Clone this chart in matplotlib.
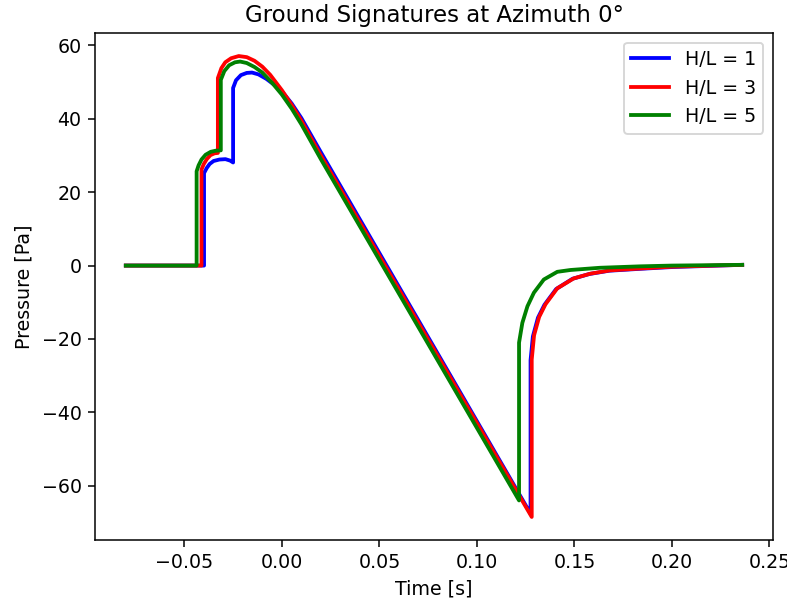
import numpy as np
import matplotlib
matplotlib.use('Agg')
from matplotlib import pyplot as plt

# ground signatures, time [s] and pressure [Pa], one pair per H/L ratio
t_hl1 = [-0.080, -0.0399, -0.0399, -0.0385, -0.0370, -0.0350, -0.0320, -0.0289,
         -0.0265, -0.0250, -0.0250, -0.0235, -0.0210, -0.0180, -0.0153, -0.0120,
         -0.008, -0.004, 0.0, 0.005, 0.010, 0.020,
         0.1275, 0.1275, 0.1287, 0.1313, 0.1346, 0.1406, 0.1490, 0.1576,
         0.1678, 0.1831, 0.200, 0.236]
p_hl1 = [0.0, 0.0, 25.2, 26.6, 27.7, 28.5, 28.9, 29.0,
         28.6, 28.1, 48.4, 50.5, 51.9, 52.5, 52.6, 52.1,
         50.9, 49.3, 47.5, 44.2, 40.2, 30.9,
         -67.6, -25.8, -19.3, -14.2, -10.7, -6.4, -3.6, -2.3,
         -1.4, -0.9, -0.4, 0.2]

t_hl3 = [-0.080, -0.0412, -0.0412, -0.0400, -0.0385, -0.0366, -0.0345, -0.0328,
         -0.0328, -0.0310, -0.0290, -0.0260, -0.0221, -0.0180, -0.0140, -0.0100,
         -0.006, 0.0, 0.005, 0.010, 0.020,
         0.1281, 0.1281, 0.1293, 0.1319, 0.1352, 0.1412, 0.1496, 0.1582,
         0.1684, 0.1837, 0.200, 0.236]
p_hl3 = [0.0, 0.0, 26.2, 27.7, 29.0, 30.1, 30.6, 30.7,
         51.1, 53.8, 55.4, 56.5, 57.1, 56.8, 55.8, 54.2,
         52.0, 47.8, 43.8, 39.5, 30.0,
         -68.5, -25.6, -19.0, -14.0, -10.5, -6.2, -3.5, -2.2,
         -1.3, -0.8, -0.3, 0.2]

t_hl5 = [-0.080, -0.0437, -0.0437, -0.0427, -0.0412, -0.0391, -0.0365, -0.0340,
         -0.0313, -0.0313, -0.0295, -0.0270, -0.0240, -0.0214, -0.0180, -0.0140,
         -0.010, -0.005, 0.0, 0.005, 0.010, 0.020,
         0.1216, 0.1216, 0.1233, 0.1259, 0.1292, 0.1343, 0.1412, 0.1480,
         0.1530, 0.1630, 0.1840, 0.200, 0.236]
p_hl5 = [0.0, 0.0, 25.7, 27.3, 28.9, 30.2, 31.0, 31.3,
         31.4, 50.6, 53.0, 54.6, 55.4, 55.6, 55.2, 54.1,
         52.6, 49.8, 46.6, 42.8, 38.5, 29.0,
         -64.0, -21.0, -15.6, -11.1, -7.4, -3.8, -1.7, -1.2,
         -1.0, -0.6, -0.2, 0.0, 0.2]

signatures = [(t_hl1, p_hl1, 'blue', 'H/L = 1'),
              (t_hl3, p_hl3, 'red', 'H/L = 3'),
              (t_hl5, p_hl5, 'green', 'H/L = 5')]

dpi = 137
fig = plt.figure(figsize=(787 / dpi, 602 / dpi), dpi=dpi)
ax = fig.add_axes([95 / 787, 1 - 540 / 602, (773 - 95) / 787, (540 - 33) / 602])

for t, p, c, lab in signatures:
    ax.plot(t, p, color=c, linewidth=2, label=lab)

ax.set_title('Ground Signatures at Azimuth 0°')
ax.set_xlabel('Time [s]')
ax.set_ylabel('Pressure [Pa]')
ax.legend(loc='upper right')

plt.savefig('out.png', dpi=dpi)
